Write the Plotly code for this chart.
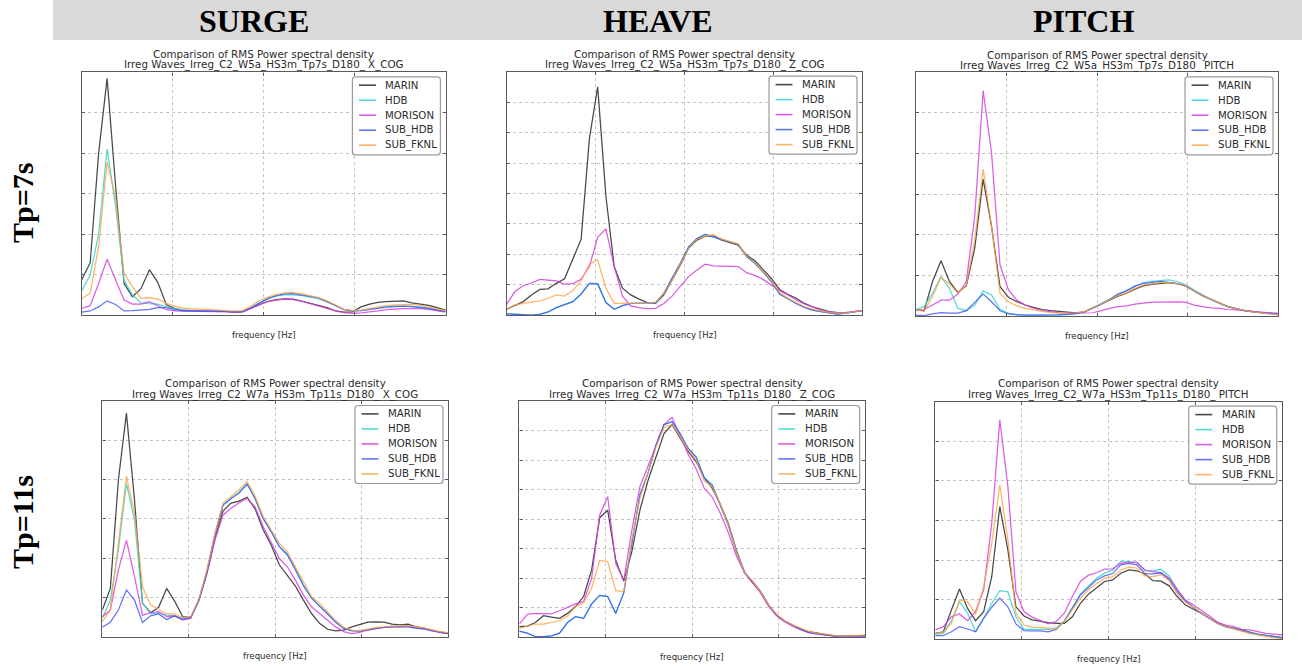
import plotly.graph_objects as go

# ---------------- data ----------------
freq = [round(i * 0.01, 2) for i in range(44)]  # Hz (axis is unlabeled)

SERIES = ["MARIN", "HDB", "MORISON", "SUB_HDB", "SUB_FKNL"]
COLORS = {
    "MARIN": "rgba(40,40,40,0.85)",
    "HDB": "rgba(64,214,206,0.9)",
    "MORISON": "rgba(214,64,224,0.85)",
    "SUB_HDB": "rgba(60,80,245,0.8)",
    "SUB_FKNL": "rgba(255,160,64,0.8)",
}

# SURGE, Tp=7s
surge7_marin = [0.87, 1.29, 4.0, 5.85, 3.2, 0.78, 0.45, 0.65, 1.12, 0.8, 0.25, 0.16, 0.12, 0.1, 0.09, 0.09, 0.1, 0.09, 0.07, 0.08, 0.17, 0.27, 0.34, 0.38, 0.4, 0.39, 0.34, 0.29, 0.24, 0.18, 0.1, 0.07, 0.08, 0.2, 0.27, 0.31, 0.33, 0.34, 0.35, 0.3, 0.27, 0.24, 0.18, 0.12]
surge7_hdb = [0.6, 0.99, 2.0, 4.1, 2.7, 0.85, 0.5, 0.3, 0.28, 0.27, 0.2, 0.15, 0.12, 0.11, 0.1, 0.1, 0.1, 0.09, 0.08, 0.09, 0.18, 0.3, 0.4, 0.47, 0.5, 0.5, 0.48, 0.44, 0.4, 0.33, 0.23, 0.14, 0.1, 0.11, 0.14, 0.17, 0.2, 0.22, 0.22, 0.21, 0.2, 0.17, 0.13, 0.1]
surge7_morison = [0.16, 0.23, 0.78, 1.38, 0.87, 0.37, 0.27, 0.27, 0.33, 0.22, 0.13, 0.1, 0.09, 0.09, 0.09, 0.09, 0.09, 0.08, 0.07, 0.08, 0.16, 0.26, 0.33, 0.37, 0.39, 0.38, 0.34, 0.28, 0.22, 0.16, 0.1, 0.06, 0.04, 0.05, 0.07, 0.1, 0.13, 0.15, 0.16, 0.16, 0.16, 0.14, 0.11, 0.07]
surge7_subhdb = [0.07, 0.1, 0.2, 0.35, 0.26, 0.1, 0.11, 0.12, 0.14, 0.18, 0.18, 0.13, 0.1, 0.1, 0.1, 0.1, 0.1, 0.09, 0.08, 0.09, 0.18, 0.3, 0.41, 0.48, 0.52, 0.53, 0.5, 0.46, 0.42, 0.33, 0.22, 0.13, 0.1, 0.11, 0.14, 0.17, 0.2, 0.21, 0.22, 0.21, 0.19, 0.16, 0.12, 0.09]
surge7_subfknl = [0.41, 0.54, 1.69, 3.78, 2.9, 1.03, 0.7, 0.41, 0.43, 0.39, 0.29, 0.22, 0.17, 0.15, 0.14, 0.14, 0.12, 0.11, 0.1, 0.11, 0.22, 0.36, 0.44, 0.51, 0.55, 0.56, 0.52, 0.47, 0.43, 0.35, 0.25, 0.14, 0.11, 0.12, 0.16, 0.2, 0.23, 0.25, 0.26, 0.26, 0.24, 0.2, 0.15, 0.11]

# HEAVE, Tp=7s
heave7_marin = [0.2, 0.32, 0.45, 0.67, 0.85, 0.87, 1.05, 1.2, 1.87, 2.5, 5.8, 7.5, 3.9, 1.6, 0.89, 0.67, 0.53, 0.42, 0.39, 0.67, 1.16, 1.65, 2.2, 2.47, 2.6, 2.6, 2.47, 2.38, 2.3, 1.98, 1.79, 1.51, 1.21, 0.85, 0.69, 0.56, 0.39, 0.28, 0.2, 0.12, 0.09, 0.07, 0.12, 0.15]
heave7_hdb = [0.05, 0.03, 0.01, 0.01, 0.03, 0.11, 0.25, 0.34, 0.45, 0.7, 1.05, 1.03, 0.42, 0.2, 0.32, 0.39, 0.39, 0.39, 0.41, 0.72, 1.21, 1.72, 2.25, 2.52, 2.66, 2.58, 2.5, 2.43, 2.33, 1.93, 1.71, 1.42, 1.11, 0.7, 0.54, 0.39, 0.26, 0.17, 0.12, 0.07, 0.04, 0.07, 0.12, 0.15]
heave7_morison = [0.37, 0.78, 0.97, 1.06, 1.18, 1.15, 1.13, 1.02, 1.04, 1.18, 1.6, 2.56, 2.84, 1.6, 0.63, 0.31, 0.25, 0.22, 0.23, 0.39, 0.63, 0.96, 1.27, 1.49, 1.68, 1.62, 1.61, 1.6, 1.6, 1.4, 1.31, 1.18, 1.0, 0.81, 0.67, 0.5, 0.37, 0.26, 0.17, 0.11, 0.09, 0.1, 0.12, 0.15]
heave7_subhdb = [0.05, 0.03, 0.01, 0.01, 0.03, 0.11, 0.25, 0.34, 0.45, 0.7, 1.05, 1.03, 0.42, 0.2, 0.32, 0.39, 0.39, 0.39, 0.41, 0.72, 1.21, 1.72, 2.25, 2.52, 2.66, 2.58, 2.5, 2.43, 2.33, 1.93, 1.71, 1.42, 1.11, 0.7, 0.54, 0.39, 0.26, 0.17, 0.12, 0.07, 0.04, 0.07, 0.12, 0.15]
heave7_subfknl = [0.2, 0.34, 0.39, 0.43, 0.47, 0.56, 0.67, 0.63, 0.81, 1.14, 1.68, 1.82, 0.89, 0.39, 0.39, 0.39, 0.39, 0.4, 0.43, 0.72, 1.16, 1.68, 2.2, 2.5, 2.6, 2.66, 2.5, 2.42, 2.34, 1.95, 1.73, 1.44, 1.14, 0.75, 0.56, 0.42, 0.28, 0.2, 0.14, 0.09, 0.07, 0.07, 0.12, 0.15]

# PITCH, Tp=7s
pitch7_marin = [0.15, 0.13, 0.85, 1.36, 0.85, 0.58, 0.74, 1.67, 3.37, 2.2, 0.72, 0.46, 0.35, 0.27, 0.21, 0.16, 0.13, 0.11, 0.09, 0.08, 0.1, 0.19, 0.3, 0.39, 0.49, 0.56, 0.66, 0.74, 0.78, 0.8, 0.82, 0.8, 0.74, 0.62, 0.5, 0.41, 0.31, 0.23, 0.18, 0.13, 0.11, 0.08, 0.07, 0.04]
pitch7_hdb = [0.16, 0.23, 0.56, 0.97, 0.68, 0.19, 0.13, 0.27, 0.62, 0.52, 0.16, 0.07, 0.03, 0.02, 0.02, 0.02, 0.02, 0.03, 0.04, 0.06, 0.1, 0.19, 0.31, 0.41, 0.54, 0.62, 0.72, 0.82, 0.85, 0.87, 0.89, 0.85, 0.77, 0.64, 0.52, 0.41, 0.31, 0.23, 0.18, 0.13, 0.11, 0.08, 0.07, 0.04]
pitch7_morison = [0.13, 0.16, 0.27, 0.39, 0.39, 0.54, 0.85, 2.45, 5.55, 4.0, 1.26, 0.64, 0.39, 0.27, 0.19, 0.13, 0.11, 0.08, 0.07, 0.07, 0.07, 0.08, 0.13, 0.19, 0.23, 0.25, 0.29, 0.31, 0.34, 0.34, 0.35, 0.35, 0.34, 0.27, 0.23, 0.2, 0.19, 0.16, 0.15, 0.13, 0.11, 0.1, 0.08, 0.07]
pitch7_subhdb = [0.02, 0.01, 0.05, 0.08, 0.07, 0.07, 0.13, 0.33, 0.54, 0.35, 0.13, 0.05, 0.03, 0.02, 0.02, 0.02, 0.02, 0.03, 0.04, 0.06, 0.1, 0.19, 0.29, 0.41, 0.54, 0.62, 0.74, 0.8, 0.83, 0.85, 0.83, 0.8, 0.74, 0.62, 0.5, 0.41, 0.31, 0.23, 0.18, 0.13, 0.1, 0.08, 0.06, 0.04]
pitch7_subfknl = [0.15, 0.12, 0.48, 0.95, 0.79, 0.57, 0.76, 1.87, 3.62, 2.2, 0.56, 0.35, 0.25, 0.19, 0.15, 0.11, 0.08, 0.07, 0.07, 0.08, 0.11, 0.19, 0.3, 0.39, 0.5, 0.57, 0.68, 0.76, 0.79, 0.82, 0.82, 0.8, 0.74, 0.62, 0.5, 0.41, 0.31, 0.23, 0.18, 0.13, 0.1, 0.07, 0.05, 0.03]

# SURGE, Tp=11s
surge11_marin = [0.68, 1.23, 3.99, 5.69, 3.48, 0.85, 0.61, 0.75, 1.23, 0.9, 0.51, 0.49, 0.93, 1.61, 2.5, 3.2, 3.4, 3.45, 3.55, 3.25, 2.72, 2.33, 1.83, 1.57, 1.29, 0.93, 0.59, 0.34, 0.19, 0.15, 0.17, 0.25, 0.32, 0.37, 0.38, 0.37, 0.32, 0.3, 0.32, 0.25, 0.21, 0.17, 0.11, 0.08]
surge11_hdb = [0.47, 0.93, 2.21, 3.9, 2.97, 0.85, 0.59, 0.6, 0.55, 0.53, 0.47, 0.51, 0.93, 1.66, 2.6, 3.35, 3.52, 3.68, 3.9, 3.5, 3.0, 2.68, 2.3, 2.1, 1.73, 1.32, 0.98, 0.8, 0.6, 0.38, 0.22, 0.16, 0.14, 0.18, 0.22, 0.24, 0.26, 0.26, 0.26, 0.23, 0.21, 0.17, 0.12, 0.09]
surge11_morison = [0.51, 0.68, 1.7, 2.46, 1.53, 0.55, 0.61, 0.64, 0.51, 0.53, 0.42, 0.47, 0.93, 1.61, 2.46, 3.1, 3.27, 3.41, 3.52, 3.3, 2.8, 2.38, 1.99, 1.78, 1.44, 1.06, 0.76, 0.59, 0.42, 0.25, 0.13, 0.08, 0.11, 0.17, 0.21, 0.24, 0.25, 0.25, 0.27, 0.24, 0.2, 0.15, 0.11, 0.08]
surge11_subhdb = [0.24, 0.37, 0.68, 1.19, 0.93, 0.36, 0.53, 0.58, 0.44, 0.53, 0.44, 0.49, 0.93, 1.65, 2.59, 3.35, 3.52, 3.66, 3.88, 3.52, 3.01, 2.67, 2.29, 2.08, 1.7, 1.29, 0.98, 0.78, 0.58, 0.37, 0.21, 0.15, 0.14, 0.17, 0.21, 0.24, 0.25, 0.25, 0.25, 0.21, 0.2, 0.15, 0.11, 0.08]
surge11_subfknl = [0.38, 0.68, 2.38, 4.09, 3.14, 1.27, 0.81, 0.7, 0.58, 0.58, 0.49, 0.51, 0.95, 1.7, 2.63, 3.4, 3.57, 3.74, 3.95, 3.57, 3.06, 2.72, 2.38, 2.16, 1.78, 1.36, 1.02, 0.85, 0.64, 0.41, 0.24, 0.17, 0.15, 0.2, 0.24, 0.25, 0.27, 0.27, 0.28, 0.25, 0.23, 0.17, 0.13, 0.1]

# HEAVE, Tp=11s
heave11_marin = [0.36, 0.38, 0.5, 0.73, 0.68, 0.64, 0.81, 1.04, 1.38, 2.28, 4.05, 4.3, 2.6, 1.9, 2.9, 4.3, 5.3, 6.1, 6.9, 7.2, 6.75, 6.3, 5.95, 5.4, 5.05, 4.5, 3.85, 2.95, 2.2, 1.85, 1.55, 1.1, 0.75, 0.55, 0.4, 0.28, 0.19, 0.14, 0.1, 0.06, 0.03, 0.03, 0.05, 0.06]
heave11_hdb = [0.21, 0.14, 0.02, 0.02, 0.05, 0.14, 0.5, 0.7, 0.64, 1.13, 1.42, 1.38, 0.81, 1.51, 3.18, 4.82, 5.55, 6.5, 7.2, 7.3, 6.9, 6.4, 6.1, 5.4, 5.15, 4.5, 3.8, 2.9, 2.2, 1.9, 1.55, 1.1, 0.76, 0.55, 0.4, 0.27, 0.17, 0.12, 0.08, 0.05, 0.03, 0.03, 0.05, 0.06]
heave11_morison = [0.45, 0.78, 0.81, 0.79, 0.79, 0.9, 1.02, 1.13, 1.21, 2.0, 4.14, 4.76, 2.5, 1.94, 3.63, 5.1, 5.78, 6.5, 7.2, 7.45, 6.8, 6.2, 5.7, 5.05, 4.75, 4.2, 3.55, 2.75, 2.2, 1.85, 1.5, 1.05, 0.73, 0.53, 0.38, 0.26, 0.16, 0.11, 0.08, 0.04, 0.03, 0.03, 0.04, 0.05]
heave11_subhdb = [0.21, 0.14, 0.02, 0.02, 0.05, 0.14, 0.5, 0.7, 0.64, 1.13, 1.42, 1.38, 0.81, 1.51, 3.18, 4.82, 5.55, 6.5, 7.2, 7.3, 6.9, 6.4, 6.1, 5.4, 5.15, 4.5, 3.8, 2.9, 2.2, 1.9, 1.55, 1.1, 0.76, 0.55, 0.4, 0.27, 0.17, 0.12, 0.08, 0.05, 0.03, 0.03, 0.05, 0.06]
heave11_subfknl = [0.3, 0.38, 0.45, 0.45, 0.5, 0.56, 0.72, 1.04, 1.17, 1.66, 2.6, 2.56, 1.58, 1.55, 3.3, 4.7, 5.55, 6.43, 7.1, 7.2, 6.8, 6.35, 6.0, 5.3, 5.1, 4.5, 3.8, 2.9, 2.2, 1.9, 1.55, 1.1, 0.78, 0.56, 0.42, 0.3, 0.2, 0.14, 0.1, 0.06, 0.04, 0.04, 0.06, 0.08]

# PITCH, Tp=11s
pitch11_marin = [0.15, 0.19, 0.74, 1.27, 0.78, 0.47, 0.7, 1.58, 3.35, 2.26, 0.82, 0.59, 0.49, 0.45, 0.42, 0.4, 0.4, 0.57, 0.91, 1.14, 1.31, 1.46, 1.5, 1.67, 1.75, 1.73, 1.65, 1.48, 1.47, 1.35, 1.08, 0.87, 0.76, 0.66, 0.53, 0.42, 0.32, 0.28, 0.24, 0.18, 0.13, 0.1, 0.07, 0.04]
pitch11_hdb = [0.13, 0.15, 0.47, 0.95, 0.66, 0.19, 0.53, 0.91, 1.23, 1.2, 0.57, 0.25, 0.25, 0.25, 0.25, 0.28, 0.47, 0.81, 1.14, 1.35, 1.54, 1.67, 1.75, 1.96, 1.96, 1.94, 1.73, 1.73, 1.77, 1.6, 1.26, 0.99, 0.81, 0.67, 0.53, 0.4, 0.32, 0.28, 0.22, 0.17, 0.13, 0.1, 0.07, 0.04]
pitch11_morison = [0.24, 0.32, 0.57, 0.64, 0.47, 0.7, 1.25, 2.93, 5.54, 3.86, 1.2, 0.7, 0.56, 0.47, 0.39, 0.45, 0.66, 1.08, 1.46, 1.62, 1.68, 1.77, 1.78, 1.92, 1.94, 1.94, 1.75, 1.71, 1.68, 1.54, 1.25, 0.99, 0.87, 0.74, 0.59, 0.43, 0.36, 0.32, 0.25, 0.24, 0.19, 0.15, 0.13, 0.11]
pitch11_subhdb = [0.09, 0.09, 0.19, 0.32, 0.26, 0.19, 0.53, 0.81, 1.04, 0.82, 0.39, 0.22, 0.21, 0.21, 0.19, 0.25, 0.45, 0.78, 1.12, 1.31, 1.5, 1.6, 1.66, 1.88, 1.92, 1.88, 1.66, 1.65, 1.68, 1.51, 1.2, 0.97, 0.8, 0.66, 0.53, 0.4, 0.32, 0.27, 0.21, 0.16, 0.12, 0.09, 0.06, 0.04]
pitch11_subfknl = [0.15, 0.18, 0.4, 0.99, 0.95, 0.64, 1.33, 2.42, 3.9, 2.51, 0.66, 0.36, 0.3, 0.3, 0.28, 0.26, 0.45, 0.76, 1.04, 1.25, 1.41, 1.54, 1.58, 1.75, 1.82, 1.8, 1.6, 1.58, 1.63, 1.48, 1.16, 0.94, 0.8, 0.66, 0.53, 0.4, 0.32, 0.26, 0.2, 0.15, 0.11, 0.07, 0.04, 0.02]

column_titles = ["SURGE", "HEAVE", "PITCH"]
row_titles = ["Tp=7s", "Tp=11s"]
title_line1 = "Comparison of RMS Power spectral density"
subtitles = [
    "Irreg Waves_Irreg_C2_W5a_HS3m_Tp7s_D180_ X_COG",
    "Irreg Waves_Irreg_C2_W5a_HS3m_Tp7s_D180_ Z_COG",
    "Irreg Waves_Irreg_C2_W5a_HS3m_Tp7s_D180_ PITCH",
    "Irreg Waves_Irreg_C2_W7a_HS3m_Tp11s_D180_ X_COG",
    "Irreg Waves_Irreg_C2_W7a_HS3m_Tp11s_D180_ Z_COG",
    "Irreg Waves_Irreg_C2_W7a_HS3m_Tp11s_D180_ PITCH",
]
xlabel = "frequency [Hz]"

panel_data = [
    [surge7_marin, surge7_hdb, surge7_morison, surge7_subhdb, surge7_subfknl],
    [heave7_marin, heave7_hdb, heave7_morison, heave7_subhdb, heave7_subfknl],
    [pitch7_marin, pitch7_hdb, pitch7_morison, pitch7_subhdb, pitch7_subfknl],
    [surge11_marin, surge11_hdb, surge11_morison, surge11_subhdb, surge11_subfknl],
    [heave11_marin, heave11_hdb, heave11_morison, heave11_subhdb, heave11_subfknl],
    [pitch11_marin, pitch11_hdb, pitch11_morison, pitch11_subhdb, pitch11_subfknl],
]
y_max = [6, 8, 6, 6, 8, 6]

# ---------------- layout geometry (pixels) ----------------
W, H = 1302, 669


def px(x):
    return x / W


def py(y):
    return 1 - y / H


# plot areas: left, right, top, bottom (px)
boxes = [
    (81.7, 445.7, 72.3, 315.0),
    (506.7, 862.3, 71.7, 315.3),
    (915.7, 1278.3, 72.3, 316.0),
    (102.3, 448.3, 401.0, 636.7),
    (519.3, 865.0, 401.0, 637.3),
    (935.3, 1282.0, 401.7, 639.3),
]
title_y = [(54.0, 64.5), (54.0, 64.5), (54.5, 65.3), (383.3, 394.0), (383.3, 394.0), (383.3, 394.3)]
xlabel_y = [334.7, 335.0, 335.5, 656.0, 656.7, 658.7]

FONT = "DejaVu Sans"
TXT = "#2b2b2b"
FRAME = "#5a5a5a"

fig = go.Figure()
shapes = []
annotations = []

x_lo, x_hi = freq[0], freq[-1]
xspan = x_hi - x_lo

for k in range(6):
    idx = k + 1
    xa = "x" if idx == 1 else f"x{idx}"
    ya = "y" if idx == 1 else f"y{idx}"
    for name, vals in zip(SERIES, panel_data[k]):
        fig.add_trace(go.Scatter(
            x=freq, y=vals, mode="lines", name=name,
            line=dict(color=COLORS[name], width=1.25),
            xaxis=xa, yaxis=ya, showlegend=False, hoverinfo="skip",
        ))
    l, r, t, b = boxes[k]
    axis_common = dict(
        showticklabels=False, showgrid=True, gridcolor="#c4c4c4", griddash="dot",
        gridwidth=1, showline=True, mirror="ticks", linecolor=FRAME, linewidth=1.4,
        ticks="inside", ticklen=3, tickcolor=FRAME, zeroline=False, fixedrange=True,
    )
    fig.update_layout(**{
        ("xaxis" if idx == 1 else f"xaxis{idx}"): dict(
            domain=[px(l), px(r)], anchor=ya, range=[x_lo, x_hi],
            tickvals=[x_lo + xspan * q / 4 for q in (1, 2, 3)], **axis_common),
        ("yaxis" if idx == 1 else f"yaxis{idx}"): dict(
            domain=[py(b), py(t)], anchor=xa, range=[0, y_max[k]],
            tickvals=list(range(1, y_max[k])), **axis_common),
    })

    cx = (l + r) / 2
    annotations.append(dict(text=title_line1, x=px(cx), y=py(title_y[k][0]), xref="paper", yref="paper",
                            showarrow=False, xanchor="center", yanchor="middle",
                            font=dict(family=FONT, size=10.3, color=TXT)))
    annotations.append(dict(text=subtitles[k], x=px(cx), y=py(title_y[k][1]), xref="paper", yref="paper",
                            showarrow=False, xanchor="center", yanchor="middle",
                            font=dict(family=FONT, size=10.3, color=TXT)))
    annotations.append(dict(text=xlabel, x=px(cx), y=py(xlabel_y[k]), xref="paper", yref="paper",
                            showarrow=False, xanchor="center", yanchor="middle",
                            font=dict(family=FONT, size=8.6, color=TXT)))

    # legend box (upper right, inside axes)
    lw, lh = 88.0, 78.0
    lx1 = r - 5.3
    lx0 = lx1 - lw
    ly0 = t + 4.5
    ly1 = ly0 + lh
    rx, ry = 3.0 / W, 3.0 / H
    X0, X1, Y0, Y1 = px(lx0), px(lx1), py(ly0), py(ly1)
    path = (f"M {X0+rx},{Y0} L {X1-rx},{Y0} Q {X1},{Y0} {X1},{Y0-ry} "
            f"L {X1},{Y1+ry} Q {X1},{Y1} {X1-rx},{Y1} L {X0+rx},{Y1} "
            f"Q {X0},{Y1} {X0},{Y1+ry} L {X0},{Y0-ry} Q {X0},{Y0} {X0+rx},{Y0} Z")
    shapes.append(dict(type="path", path=path, xref="paper", yref="paper",
                       fillcolor="rgba(255,255,255,0.92)", line=dict(color="#9a9a9a", width=1.2), layer="above"))
    for j, name in enumerate(SERIES):
        yy = ly0 + 8.4 + j * 15.0
        shapes.append(dict(type="line", xref="paper", yref="paper",
                           x0=px(lx0 + 6.6), x1=px(lx0 + 23.5), y0=py(yy), y1=py(yy),
                           line=dict(color=COLORS[name], width=1.6), layer="above"))
        annotations.append(dict(text=name, x=px(lx0 + 31.0), y=py(yy), xref="paper", yref="paper",
                                showarrow=False, xanchor="left", yanchor="middle",
                                font=dict(family=FONT, size=10.2, color=TXT)))

# header band and headings
shapes.insert(0, dict(type="rect", xref="paper", yref="paper", x0=px(53), x1=1, y0=py(40), y1=1,
                      fillcolor="#d9d9d9", line=dict(width=0), layer="below"))
for name, cx in zip(column_titles, [254, 658, 1083]):
    annotations.append(dict(text=f"<b>{name}</b>", x=px(cx), y=py(20.5), xref="paper", yref="paper",
                            showarrow=False, xanchor="center", yanchor="middle",
                            font=dict(family="Liberation Serif", size=32, color="#000000")))
for name, cy in zip(row_titles, [203, 522]):
    annotations.append(dict(text=f"<b>{name}</b>", x=px(22), y=py(cy), xref="paper", yref="paper",
                            showarrow=False, xanchor="center", yanchor="middle", textangle=-90,
                            font=dict(family="Liberation Serif", size=30, color="#000000")))

fig.update_layout(
    width=W, height=H, margin=dict(l=0, r=0, t=0, b=0),
    paper_bgcolor="white", plot_bgcolor="white",
    shapes=shapes, annotations=annotations, showlegend=False,
)

fig.write_html("out.html", config={"displayModeBar": False},
               post_script="document.body.style.margin='0px';document.body.style.overflow='hidden';")
